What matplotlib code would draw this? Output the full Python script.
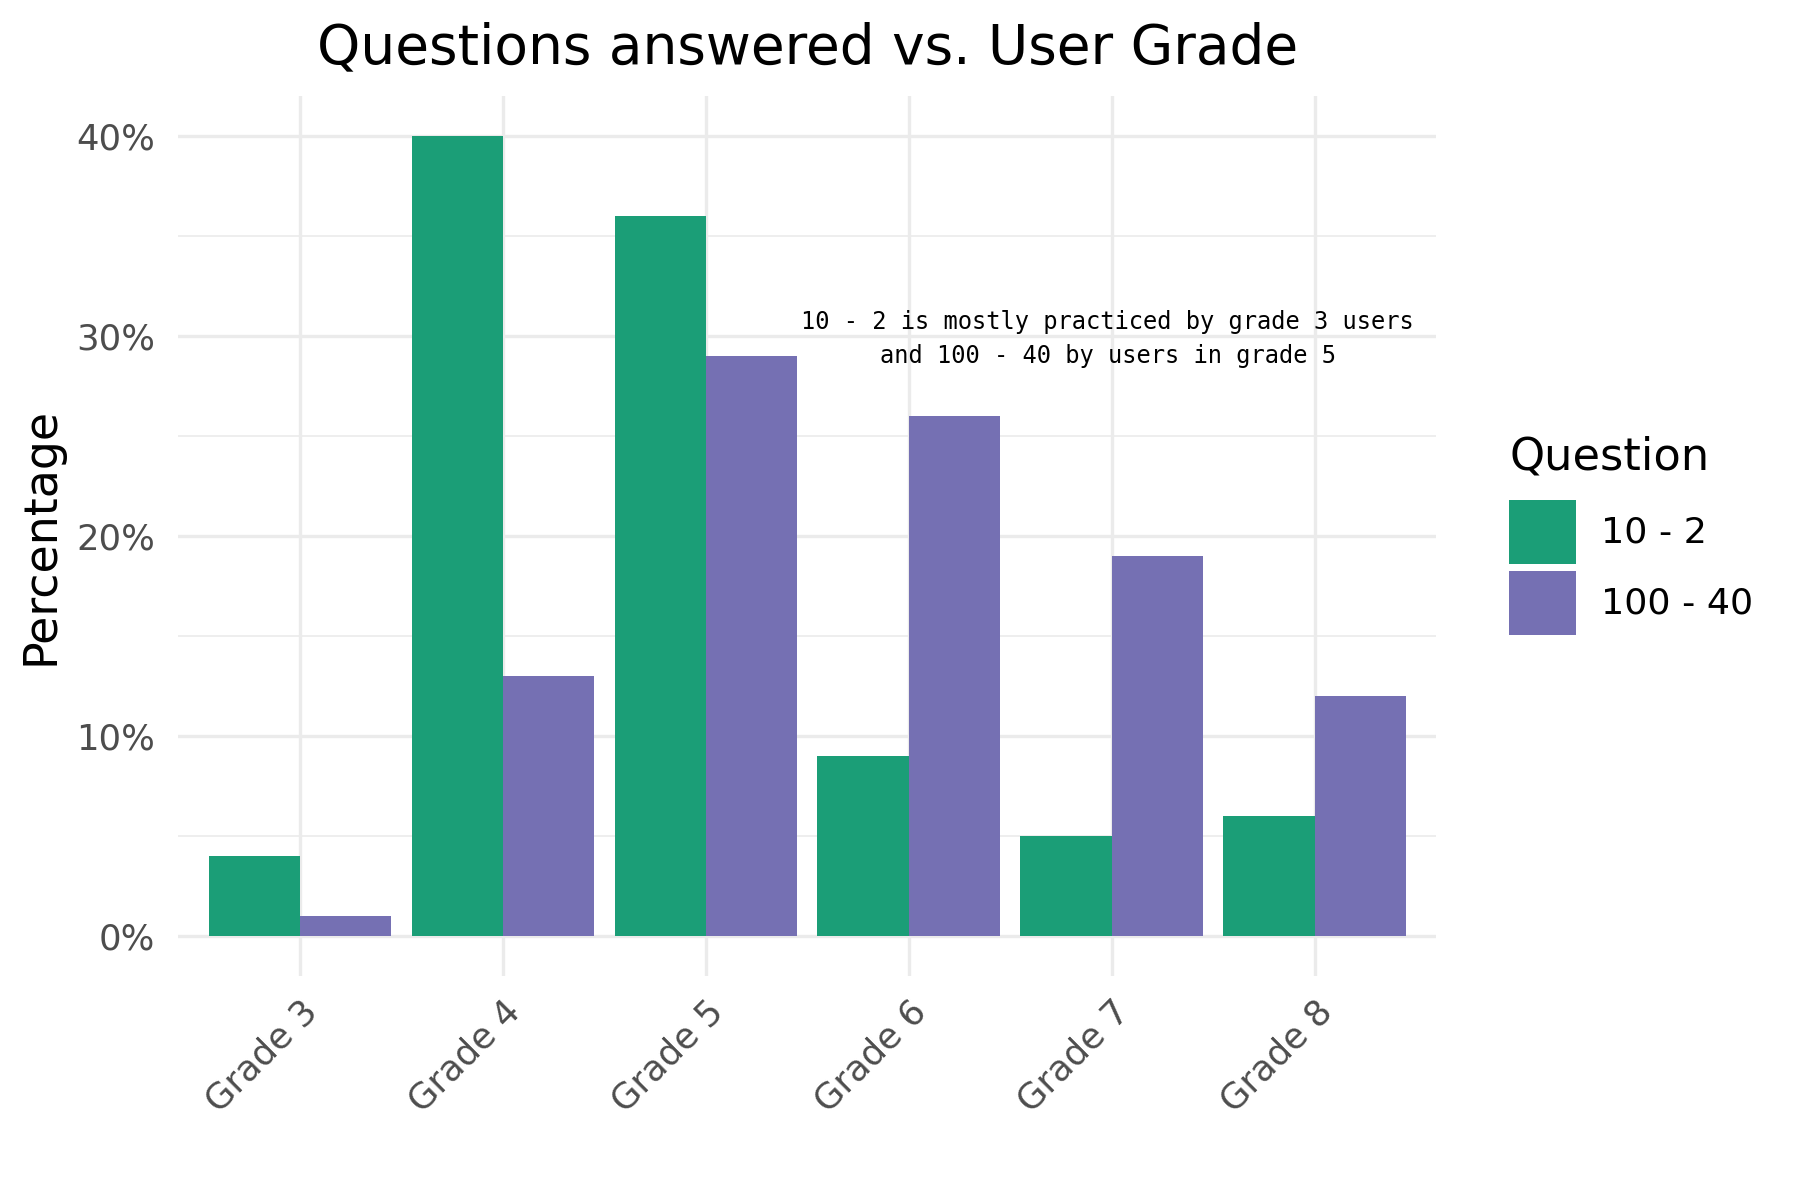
import numpy as np
import matplotlib.pyplot as plt
from matplotlib.ticker import FuncFormatter, MultipleLocator

grades = ['Grade 3', 'Grade 4', 'Grade 5', 'Grade 6', 'Grade 7', 'Grade 8']
questions = ['10 - 2', '100 - 40']
pct_10_2 = [4, 40, 36, 9, 5, 6]
pct_100_40 = [1, 13, 29, 26, 19, 12]
colors = ['#1b9e77', '#7570b3']

plt.rcParams['font.family'] = 'DejaVu Sans'

fig = plt.figure(figsize=(12, 8), dpi=150)
ax = fig.add_axes([0.099, 0.187, 0.699, 0.733])

x = np.arange(1, len(grades) + 1)
w = 0.45
ax.bar(x - w/2, pct_10_2, width=w, color=colors[0], label=questions[0], zorder=2)
ax.bar(x + w/2, pct_100_40, width=w, color=colors[1], label=questions[1], zorder=2)

ax.set_xlim(0.4, 6.6)
ax.set_ylim(-2, 42)
ax.set_xticks(x)
ax.set_xticklabels(grades, rotation=45, ha='right', va='top', rotation_mode='anchor')
ax.yaxis.set_major_locator(MultipleLocator(10))
ax.yaxis.set_minor_locator(MultipleLocator(5))
ax.yaxis.set_major_formatter(FuncFormatter(lambda v, p: f'{v:.0f}%'))

ax.grid(which='major', color='#ebebeb', linewidth=1.6, zorder=0)
ax.grid(which='minor', axis='y', color='#ebebeb', linewidth=0.8, zorder=0)
ax.tick_params(axis='both', which='both', length=0, labelsize=17, labelcolor='#4d4d4d')
ax.tick_params(axis='y', pad=11)
ax.tick_params(axis='x', pad=9)
for s in ax.spines.values():
    s.set_visible(False)

ax.set_ylabel('Percentage', fontsize=22, labelpad=6)
fig.suptitle('Questions answered vs. User Grade', fontsize=26.4, x=0.4485, y=0.982)

# annotation sits roughly over Grade 7 at 30%
ax.text(4.98, 29.85, '10 - 2 is mostly practiced by grade 3 users\nand 100 - 40 by users in grade 5',
        family='DejaVu Sans Mono', fontsize=11.4, ha='center', va='center',
        linespacing=1.55, zorder=3)

leg = ax.legend(title='Question', loc='center left', bbox_to_anchor=(0.8305, 0.554),
                bbox_transform=fig.transFigure, frameon=False, fontsize=17.5,
                title_fontsize=21.5, handlelength=1.82, handleheight=2.33,
                labelspacing=0.19, handletextpad=0.7, borderaxespad=0)
leg._legend_box.align = 'left'
leg._legend_box.sep = 10

fig.savefig('out.png', dpi=150)
